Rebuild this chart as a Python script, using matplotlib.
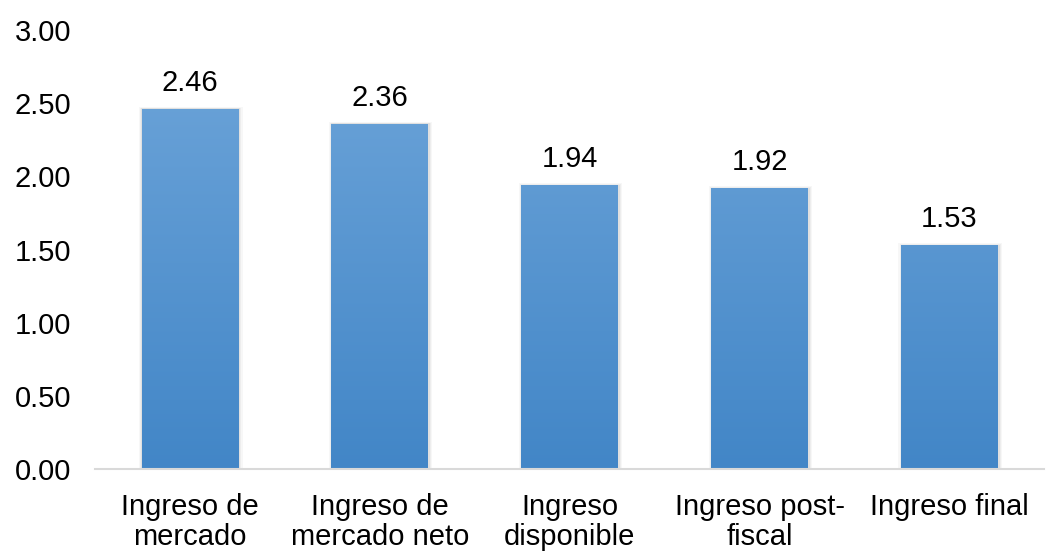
import matplotlib
matplotlib.use('Agg')
import matplotlib.pyplot as plt
import numpy as np
from matplotlib.colors import LinearSegmentedColormap

plt.rcParams['font.family'] = ['Liberation Sans', 'DejaVu Sans']

categorias = ['Ingreso de\nmercado', 'Ingreso de\nmercado neto', 'Ingreso\ndisponible',
              'Ingreso post-\nfiscal', 'Ingreso final']
valores = [2.46, 2.36, 1.94, 1.92, 1.53]

fig = plt.figure(figsize=(10.49, 5.52), dpi=100)
ax = fig.add_axes([0.0906, 0.150, 0.905, 0.7957])

x = np.arange(len(categorias))
ancho = 0.51

# sombra
for xi, v in zip(x, valores):
    for k, a in enumerate([0.05, 0.04, 0.03]):
        d = 0.006 * (k + 1)
        ax.bar(xi + 0.004, v + 0.004 * (k + 1), width=ancho + 2 * d, color='black',
               alpha=a, linewidth=0, zorder=1)

barras = ax.bar(x, valores, width=ancho, color='#5b9bd5', linewidth=0, zorder=2)

cmap = LinearSegmentedColormap.from_list('azul', ['#4286c7', '#6fa6da'])
grad = np.linspace(0, 1, 256).reshape(-1, 1)
for b in barras:
    xb = b.get_x()
    w = b.get_width()
    im = ax.imshow(grad, cmap=cmap, origin='lower', aspect='auto',
                   extent=[xb, xb + w, 0, 3], zorder=3)
    im.set_clip_path(b)

for xi, v in zip(x, valores):
    ax.text(xi, v + 0.08, f'{v:.2f}', ha='center', va='bottom', fontsize=21, color='#000000')

ax.set_xlim(-0.5, len(categorias) - 0.5)
ax.set_ylim(0, 3)
ax.set_yticks(np.arange(0, 3.01, 0.5))
ax.set_yticklabels([f'{t:.2f}' for t in np.arange(0, 3.01, 0.5)])
ax.set_xticks(x)
ax.set_xticklabels(categorias, linespacing=1.12)
ax.tick_params(axis='both', length=0, labelsize=21, colors='#000000')
ax.tick_params(axis='y', pad=17)
ax.tick_params(axis='x', pad=17)

for s in ['top', 'right', 'left']:
    ax.spines[s].set_visible(False)
ax.spines['bottom'].set_color('#d9d9d9')
ax.spines['bottom'].set_linewidth(1.5)
ax.spines['bottom'].set_zorder(5)

fig.savefig('out.png', dpi=100)
